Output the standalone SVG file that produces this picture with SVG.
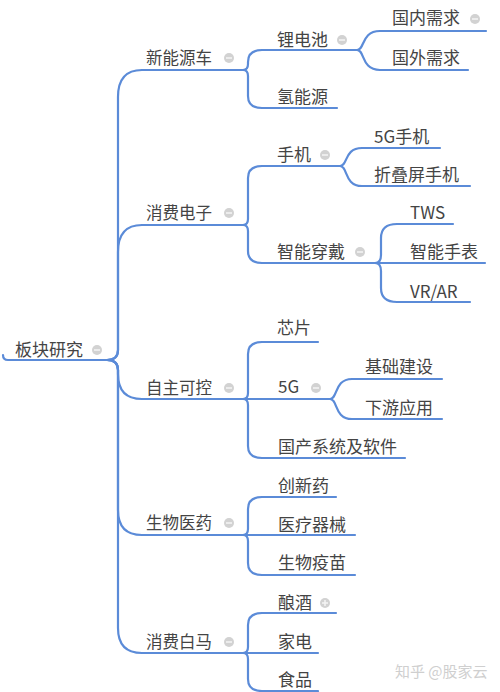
<svg xmlns="http://www.w3.org/2000/svg" width="500" height="692" viewBox="0 0 500 692">
<style>
.t{font-family:"Noto Sans CJK SC","Noto Sans",sans-serif;font-size:17px;fill:#444444}
.l1{font-size:16.5px}
.ln{fill:none;stroke:#5b8bd8;stroke-width:2.2;stroke-linecap:round}
.wm{font-family:"Noto Sans CJK SC","Noto Sans",sans-serif;font-size:15px;fill:#cfcfcf}
</style>
<defs>
<g id="minus"><circle r="5" fill="#d2d2d2"/><line x1="-3" y1="0" x2="3" y2="0" stroke="#f4f4f4" stroke-width="1.5"/></g>
<g id="plus"><circle r="5" fill="#d2d2d2"/><line x1="-3" y1="0" x2="3" y2="0" stroke="#f4f4f4" stroke-width="1.5"/><line x1="0" y1="-3" x2="0" y2="3" stroke="#f4f4f4" stroke-width="1.5"/></g>
</defs>
<rect width="500" height="692" fill="#ffffff"/>
<g id="connectors" class="ln">
<path d="M107 360 Q118 360 118 350 L118 97 Q118 70 142 70"/>
<path d="M107 360 Q118 360 118 350 L118 252 Q118 225 142 225"/>
<path d="M107 360 Q118 360 118 370 L118 374 Q118 399 142 399"/>
<path d="M107 360 Q118 360 118 370 L118 510 Q118 535 142 535"/>
<path d="M107 360 Q118 360 118 370 L118 628 Q118 653 142 653"/>
<path d="M243 70 Q248 70 248 64 L248 62 Q248 50 262 50"/>
<path d="M243 70 Q248 70 248 76 L248 96 Q248 108 262 108"/>
<path d="M243 225 Q248 225 248 219 L248 178 Q248 166 262 166"/>
<path d="M243 225 Q248 225 248 231 L248 251 Q248 263 262 263"/>
<path d="M243 399 Q248 399 248 393 L248 354 Q248 342 262 342"/>
<path d="M243 399 L262 399"/>
<path d="M243 399 Q248 399 248 405 L248 446 Q248 458 262 458"/>
<path d="M243 535 Q248 535 248 529 L248 509 Q248 497 262 497"/>
<path d="M243 535 L262 535"/>
<path d="M243 535 Q248 535 248 541 L248 563 Q248 575 262 575"/>
<path d="M243 653 Q248 653 248 647 L248 625 Q248 613 262 613"/>
<path d="M243 653 L262 653"/>
<path d="M243 653 Q248 653 248 659 L248 679 Q248 691 262 691"/>
<path d="M357 50 C365 50 361 31 380 31"/>
<path d="M357 50 C365 50 361 70 380 70"/>
<path d="M340 166 C348 166 344 148 362 148"/>
<path d="M340 166 C348 166 344 186 362 186"/>
<path d="M375 263 Q381 263 381 255 L381 238 Q381 224 397 224"/>
<path d="M375 263 L397 263"/>
<path d="M375 263 Q381 263 381 271 L381 288 Q381 302 397 302"/>
<path d="M330 399 C338 399 334 379 352 379"/>
<path d="M330 399 C338 399 334 419 352 419"/>
</g>
<g id="root"><path class="ln" d="M3 355 Q3 360 8 360 L107 360"/><text class="t" x="15" y="356">板块研究</text><use href="#minus" x="97" y="350"/></g>
<g id="n1"><path class="ln" d="M142 70 L243 70"/><text class="t l1" x="146" y="64">新能源车</text><use href="#minus" x="229" y="58"/></g>
<g id="n2"><path class="ln" d="M142 225 L243 225"/><text class="t l1" x="146" y="219">消费电子</text><use href="#minus" x="229" y="213"/></g>
<g id="n3"><path class="ln" d="M142 399 L243 399"/><text class="t l1" x="146" y="394">自主可控</text><use href="#minus" x="229" y="388"/></g>
<g id="n4"><path class="ln" d="M142 535 L243 535"/><text class="t l1" x="146" y="529">生物医药</text><use href="#minus" x="229" y="523"/></g>
<g id="n5"><path class="ln" d="M142 653 L243 653"/><text class="t l1" x="146" y="648">消费白马</text><use href="#minus" x="229" y="642"/></g>
<g id="n1a"><path class="ln" d="M262 50 L357 50"/><text class="t" x="277" y="46">锂电池</text><use href="#minus" x="342" y="40"/></g>
<g id="n1a1"><path class="ln" d="M380 31 L486 31"/><text class="t" x="392" y="24">国内需求</text><use href="#minus" x="475" y="19"/></g>
<g id="n1a2"><path class="ln" d="M380 70 L468 70"/><text class="t" x="392" y="64">国外需求</text></g>
<g id="n1b"><path class="ln" d="M262 108 L337 108"/><text class="t" x="277" y="103">氢能源</text></g>
<g id="n2a"><path class="ln" d="M262 166 L340 166"/><text class="t" x="277" y="161">手机</text><use href="#minus" x="325" y="155"/></g>
<g id="n2a1"><path class="ln" d="M362 148 L440 148"/><text class="t" x="374" y="143">5G手机</text></g>
<g id="n2a2"><path class="ln" d="M362 186 L470 186"/><text class="t" x="374" y="181">折叠屏手机</text></g>
<g id="n2b"><path class="ln" d="M262 263 L375 263"/><text class="t" x="277" y="258">智能穿戴</text><use href="#minus" x="360" y="252"/></g>
<g id="n2b1"><path class="ln" d="M397 224 L453 224"/><text class="t" x="410" y="219">TWS</text></g>
<g id="n2b2"><path class="ln" d="M397 263 L485 263"/><text class="t" x="410" y="258">智能手表</text></g>
<g id="n2b3"><path class="ln" d="M397 302 L470 302"/><text class="t" x="410" y="298">VR/AR</text></g>
<g id="n3a"><path class="ln" d="M262 342 L318 342"/><text class="t" x="277" y="334">芯片</text></g>
<g id="n3b"><path class="ln" d="M262 399 L330 399"/><text class="t" x="278" y="393">5G</text><use href="#minus" x="316" y="388"/></g>
<g id="n3b1"><path class="ln" d="M352 379 L442 379"/><text class="t" x="365" y="373">基础建设</text></g>
<g id="n3b2"><path class="ln" d="M352 419 L442 419"/><text class="t" x="365" y="414">下游应用</text></g>
<g id="n3c"><path class="ln" d="M262 458 L405 458"/><text class="t" x="278" y="453">国产系统及软件</text></g>
<g id="n4a"><path class="ln" d="M262 497 L336 497"/><text class="t" x="278" y="492">创新药</text></g>
<g id="n4b"><path class="ln" d="M262 535 L355 535"/><text class="t" x="278" y="531">医疗器械</text></g>
<g id="n4c"><path class="ln" d="M262 575 L355 575"/><text class="t" x="278" y="569">生物疫苗</text></g>
<g id="n5a"><path class="ln" d="M262 613 L336 613"/><text class="t" x="278" y="609">酿酒</text><use href="#plus" x="325" y="603"/></g>
<g id="n5b"><path class="ln" d="M262 653 L318 653"/><text class="t" x="278" y="648">家电</text></g>
<g id="n5c"><path class="ln" d="M262 691 L318 691"/><text class="t" x="278" y="686">食品</text></g>
<text class="wm" x="395" y="677">知乎 @股家云</text>
</svg>
